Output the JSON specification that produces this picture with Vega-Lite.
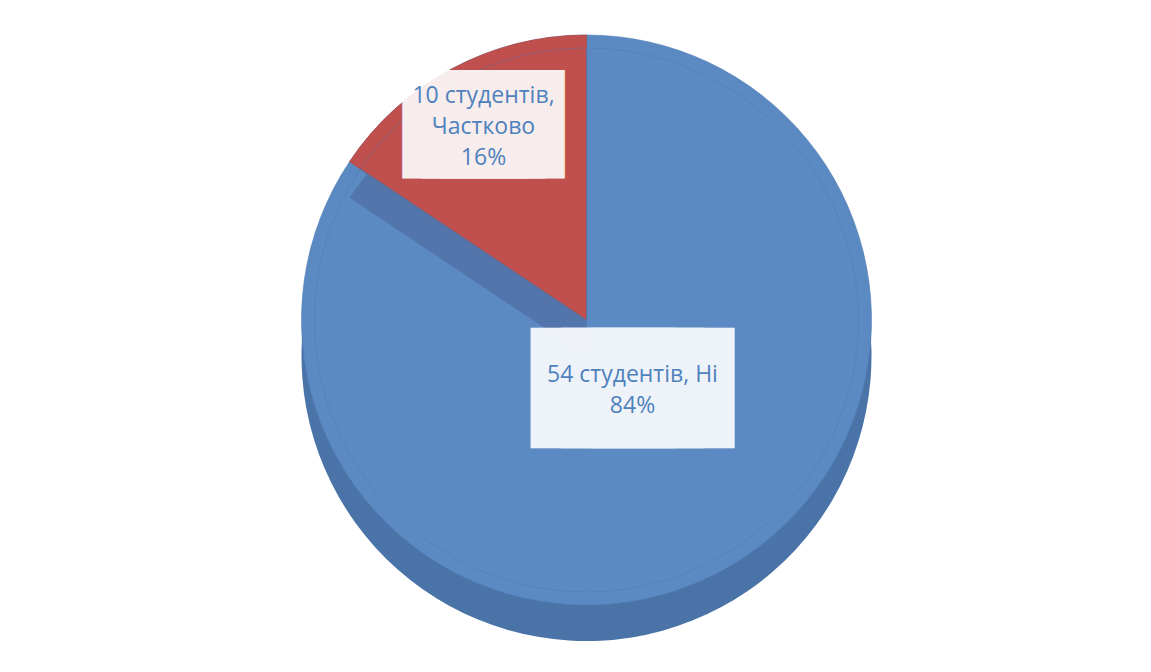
{
  "$schema": "https://vega.github.io/schema/vega-lite/v6.json",
  "width": 1151,
  "height": 672,
  "autosize": {"type": "fit", "contains": "padding"},
  "padding": {"left": 22, "top": 0, "right": 0, "bottom": 32},
  "background": "white",
  "config": {"view": {"stroke": null}},
  "data": {
    "values": [
      {"idx": 1, "category": "Ні", "count": 54, "label": "54 студентів, Ні\n84%"},
      {"idx": 2, "category": "Частково", "count": 10, "label": "10 студентів,\nЧастково\n16%"}
    ]
  },
  "encoding": {
    "theta": {"field": "count", "type": "quantitative", "stack": true},
    "order": {"field": "idx", "type": "quantitative"}
  },
  "layer": [
    {
      "mark": {"type": "arc", "outerRadius": 285, "yOffset": 36},
      "encoding": {
        "fill": {
          "field": "category",
          "type": "nominal",
          "scale": {"domain": ["Ні", "Частково"], "range": ["#4a73a8", "#9c4341"]},
          "legend": null
        }
      }
    },
    {
      "mark": {"type": "arc", "outerRadius": 285, "stroke": "#4f7bb3", "strokeWidth": 0.6},
      "encoding": {
        "color": {
          "field": "category",
          "type": "nominal",
          "scale": {"domain": ["Ні", "Частково"], "range": ["#5b8ac2", "#c0504d"]},
          "legend": null
        }
      }
    },
    {
      "mark": {"type": "arc", "outerRadius": 285, "yOffset": 36, "fill": "#5276ab"},
      "encoding": {
        "opacity": {
          "field": "category",
          "type": "nominal",
          "scale": {"type": "point", "domain": ["Ні", "Частково"], "range": [0, 1], "padding": 0},
          "legend": null
        }
      }
    },
    {
      "mark": {"type": "arc", "outerRadius": 285, "fill": "#c0504d", "stroke": "#b04a47", "strokeWidth": 0.6},
      "encoding": {
        "opacity": {
          "field": "category",
          "type": "nominal",
          "scale": {"type": "point", "domain": ["Ні", "Частково"], "range": [0, 1], "padding": 0},
          "legend": null
        }
      }
    },
    {
      "mark": {"type": "arc", "outerRadius": 272, "fill": null, "stroke": "#4a74aa", "strokeOpacity": 0.5, "strokeWidth": 0.8}
    },
    {
      "mark": {
        "type": "text",
        "text": "▔▔▔",
        "font": "DejaVu Sans Mono",
        "radius": 158,
        "fill": "white",
        "stroke": "white",
        "strokeJoin": "miter",
        "opacity": 0.9,
        "align": "center",
        "baseline": "alphabetic",
        "dx": -28.5,
        "dy": -28.2
      },
      "encoding": {
        "size": {
          "field": "category",
          "type": "nominal",
          "scale": {"type": "point", "domain": ["Ні", "Частково"], "range": [49.98, 32.52], "padding": 0},
          "legend": null
        },
        "strokeWidth": {
          "field": "category",
          "type": "nominal",
          "scale": {"type": "point", "domain": ["Ні", "Частково"], "range": [112.7, 103.3], "padding": 0},
          "legend": null
        }
      }
    },
    {
      "mark": {
        "type": "text",
        "font": "Open Sans",
        "fontSize": 23,
        "fill": "#4f81bd",
        "radius": 158,
        "lineBreak": "\n",
        "lineHeight": 31,
        "align": "center",
        "baseline": "middle",
        "dx": -28.5,
        "dy": -84.4
      },
      "encoding": {
        "text": {"field": "label"}
      }
    }
  ]
}
